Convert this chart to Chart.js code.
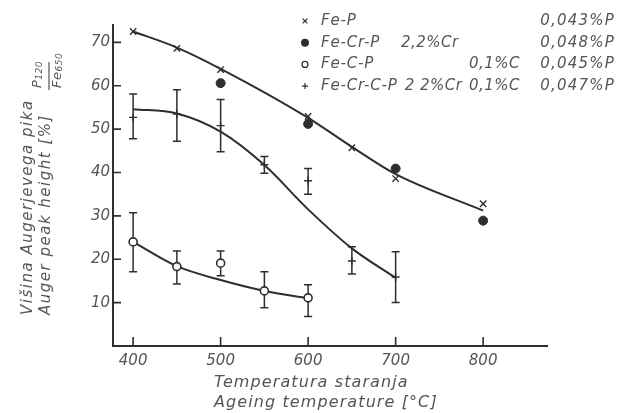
<!DOCTYPE html>
<html>
<head>
<meta charset="utf-8">
<script src="https://cdn.jsdelivr.net/npm/chart.js@4.4.0/dist/chart.umd.min.js"></script>
<style>
  html, body { margin: 0; padding: 0; background: #fff; }
  #wrap { width: 619px; height: 413px; }
</style>
</head>
<body>
<div id="wrap"><canvas id="auger" width="619" height="413"></canvas></div>
<script>
// measured points: ageing temperature [°C] -> Auger peak height [%]
const feP_T = [400, 450, 500, 600, 650, 700, 800];
const feP_V = [72.5, 68.6, 63.7, 52.9, 45.7, 38.6, 32.8];

const feCrP_T = [500, 600, 700, 800];
const feCrP_V = [60.6, 51.2, 40.9, 28.9];

const feCP_T = [400, 450, 500, 550, 600];
const feCP_V = [24.0, 18.3, 19.1, 12.7, 11.1];
const feCP_lo = [17.1, 14.3, 16.2, 8.8, 6.8];
const feCP_hi = [30.7, 21.9, 21.9, 17.1, 14.1];

const feCrCP_T = [400, 450, 500, 550, 600, 650, 700];
const feCrCP_V = [52.7, 53.5, 50.8, 41.8, 38.1, 19.6, 15.9];
const feCrCP_lo = [47.8, 47.2, 44.8, 39.8, 35.0, 16.6, 10.0];
const feCrCP_hi = [58.1, 59.1, 56.8, 43.7, 40.9, 22.9, 21.7];

// hand-drawn trend curves
const curveFeP_T = [400, 450, 500, 600, 650, 700, 800];
const curveFeP_V = [72.5, 68.8, 63.9, 52.6, 45.9, 39.6, 31.2];
const curveFeCrCP_T = [400, 450, 500, 550, 600, 650, 700];
const curveFeCrCP_V = [54.6, 53.6, 49.4, 41.7, 31.5, 22.5, 15.7];
const curveFeCP_T = [400, 450, 500, 550, 600];
const curveFeCP_V = [24.0, 18.4, 15.2, 12.7, 11.0];

const xTicks = [400, 500, 600, 700, 800];
const yTicks = [10, 20, 30, 40, 50, 60, 70];

// legend table
const legendNames = ['Fe-P', 'Fe-Cr-P', 'Fe-C-P', 'Fe-Cr-C-P'];
const legendCr = ['', '2,2%Cr', '', '2 2%Cr'];
const legendC = ['', '', '0,1%C', '0,1%C'];
const legendP = ['0,043%P', '0,048%P', '0,045%P', '0,047%P'];

const xTitle = ['Temperatura staranja', 'Ageing temperature [°C]'];
const yTitle = ['Višina Augerjevega pika', 'Auger peak height [%]'];

const INK = '#2e2e2e';
const TXT = '#555555';
const FONT = 'DejaVu Sans';

// marker look per series, shared by datasets and legend
const markers = [
  { pointStyle: 'crossRot', radius: 4.5, fill: INK, borderWidth: 1.4 },
  { pointStyle: 'circle', radius: 4.5, fill: INK, borderWidth: 1 },
  { pointStyle: 'circle', radius: 4, fill: '#ffffff', borderWidth: 1.6 },
  { pointStyle: 'cross', radius: 4, fill: INK, borderWidth: 1.4 }
];

function pts(xs, ys) {
  return xs.map((x, i) => ({ x: x, y: ys[i] }));
}

function markerSet(data, m, extra) {
  return Object.assign({
    data: data,
    showLine: false,
    order: 1,
    pointStyle: m.pointStyle,
    pointRadius: m.radius,
    pointBackgroundColor: m.fill,
    pointBorderColor: INK,
    pointBorderWidth: m.borderWidth,
    clip: false
  }, extra || {});
}

function curveSet(data) {
  return {
    data: data,
    showLine: true,
    order: 2,
    borderColor: INK,
    borderWidth: 2,
    pointRadius: 0,
    cubicInterpolationMode: 'monotone',
    clip: false
  };
}

// error bars drawn under the markers
const errorBars = {
  id: 'errorBars',
  beforeDatasetsDraw(chart) {
    const ctx = chart.ctx, xs = chart.scales.x, ys = chart.scales.y;
    ctx.save();
    ctx.strokeStyle = INK;
    ctx.lineWidth = 1.5;
    chart.data.datasets.forEach(ds => {
      if (!ds.errLow) return;
      ds.data.forEach((p, i) => {
        const px = xs.getPixelForValue(p.x);
        const y1 = ys.getPixelForValue(ds.errLow[i]);
        const y2 = ys.getPixelForValue(ds.errHigh[i]);
        ctx.beginPath();
        ctx.moveTo(px, y1); ctx.lineTo(px, y2);
        ctx.moveTo(px - 4, y1); ctx.lineTo(px + 4, y1);
        ctx.moveTo(px - 4, y2); ctx.lineTo(px + 4, y2);
        ctx.stroke();
      });
    });
    ctx.restore();
  }
};

// ticks point into the plot, like the original
const inwardTicks = {
  id: 'inwardTicks',
  afterDraw(chart) {
    const ctx = chart.ctx, a = chart.chartArea;
    const xs = chart.scales.x, ys = chart.scales.y;
    ctx.save();
    ctx.strokeStyle = INK;
    ctx.lineWidth = 1.6;
    ctx.beginPath();
    xTicks.forEach(v => {
      const px = xs.getPixelForValue(v);
      ctx.moveTo(px, a.bottom); ctx.lineTo(px, a.bottom - 9);
    });
    yTicks.forEach(v => {
      const py = ys.getPixelForValue(v);
      ctx.moveTo(a.left, py); ctx.lineTo(a.left + 8, py);
    });
    ctx.stroke();
    ctx.restore();
  }
};

// titles and legend table
const texts = {
  id: 'texts',
  afterDraw(chart) {
    const ctx = chart.ctx;
    ctx.save();
    ctx.fillStyle = TXT;
    ctx.textBaseline = 'middle';

    // x title, two lines
    ctx.font = 'italic 16px "' + FONT + '"';
    ctx.letterSpacing = '1.1px';
    ctx.textAlign = 'left';
    ctx.fillText(xTitle[0], 214, 383);
    ctx.fillText(xTitle[1], 214, 403);

    // y title, rotated
    ctx.font = 'italic 15px "' + FONT + '"';
    ctx.letterSpacing = '1.5px';
    [[yTitle[0], 28], [yTitle[1], 46]].forEach(t => {
      ctx.save();
      ctx.translate(t[1], 315);
      ctx.rotate(-Math.PI / 2);
      ctx.fillText(t[0], 0, 0);
      ctx.restore();
    });
    // the P120 / Fe650 fraction
    ctx.letterSpacing = '0.5px';
    const frac = [['P', '120', 38], ['Fe', '650', 58]];
    frac.forEach(f => {
      ctx.save();
      ctx.translate(f[2], 88);
      ctx.rotate(-Math.PI / 2);
      ctx.font = 'italic 13px "' + FONT + '"';
      ctx.fillText(f[0], 0, 0);
      const w = ctx.measureText(f[0]).width;
      ctx.font = 'italic 9px "' + FONT + '"';
      ctx.fillText(f[1], w, 2);
      ctx.restore();
    });
    ctx.strokeStyle = TXT;
    ctx.lineWidth = 1.2;
    ctx.beginPath();
    ctx.moveTo(49, 90); ctx.lineTo(49, 62);
    ctx.stroke();

    // legend
    ctx.font = 'italic 15px "' + FONT + '"';
    legendNames.forEach((name, i) => {
      const y = 21 + i * 21.7;
      const m = markers[i];
      ctx.save();
      ctx.fillStyle = m.fill;
      ctx.strokeStyle = INK;
      Chart.helpers.drawPoint(ctx, {
        pointStyle: m.pointStyle, radius: m.radius * 0.75,
        borderWidth: m.borderWidth, rotation: 0
      }, 305, y);
      ctx.restore();
      ctx.letterSpacing = '0.8px';
      ctx.textAlign = 'left';
      ctx.fillText(name, 321, y);
      if (legendCr[i]) {
        const nameEnd = 321 + ctx.measureText(name).width;
        ctx.letterSpacing = '0.5px';
        ctx.fillText(legendCr[i], Math.max(401, nameEnd + 7), y);
      }
      ctx.textAlign = 'right';
      ctx.letterSpacing = '0.5px';
      if (legendC[i]) ctx.fillText(legendC[i], 520, y);
      ctx.letterSpacing = '1.2px';
      ctx.fillText(legendP[i], 615, y);
    });
    ctx.restore();
  }
};

const tickFont = { family: FONT, size: 15, style: 'italic' };

new Chart(document.getElementById('auger'), {
  type: 'scatter',
  data: {
    datasets: [
      markerSet(pts(feP_T, feP_V), markers[0]),
      markerSet(pts(feCrP_T, feCrP_V), markers[1]),
      markerSet(pts(feCP_T, feCP_V), markers[2], { errLow: feCP_lo, errHigh: feCP_hi }),
      markerSet(pts(feCrCP_T, feCrCP_V), markers[3], { errLow: feCrCP_lo, errHigh: feCrCP_hi }),
      curveSet(pts(curveFeP_T, curveFeP_V)),
      curveSet(pts(curveFeCrCP_T, curveFeCrCP_V)),
      curveSet(pts(curveFeCP_T, curveFeCP_V))
    ]
  },
  options: {
    responsive: false,
    animation: false,
    devicePixelRatio: 1,
    layout: { padding: { left: 0, top: 25, right: 72, bottom: 0 } },
    plugins: {
      legend: { display: false },
      tooltip: { enabled: false }
    },
    scales: {
      x: {
        type: 'linear',
        min: 377,
        max: 873,
        afterFit: s => { s.height = 67; },
        afterBuildTicks: s => { s.ticks = xTicks.map(v => ({ value: v })); },
        grid: { drawOnChartArea: false, drawTicks: false },
        border: { display: true, color: INK, width: 2 },
        ticks: { padding: 6, color: TXT, font: tickFont }
      },
      y: {
        min: 0,
        max: 74,
        afterFit: s => { s.width = 113; },
        afterBuildTicks: s => { s.ticks = yTicks.map(v => ({ value: v })); },
        grid: { drawOnChartArea: false, drawTicks: false },
        border: { display: true, color: INK, width: 2 },
        ticks: { padding: 3, color: TXT, font: tickFont }
      }
    }
  },
  plugins: [errorBars, inwardTicks, texts]
});
</script>
</body>
</html>
